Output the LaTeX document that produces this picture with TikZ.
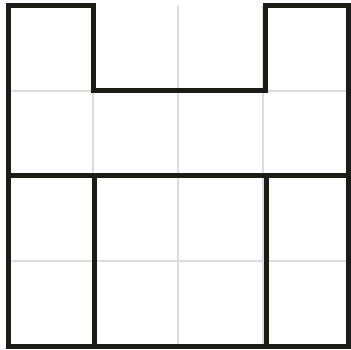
\documentclass[tikz,border=0pt]{standalone}
\definecolor{wallc}{HTML}{1C1C16}
\definecolor{gridc}{HTML}{DCDCDC}
\begin{document}
\begin{tikzpicture}[x=1pt,y=-1pt,
  gridline/.style={draw=gridc, line width=1.3pt},
  wall/.style={draw=wallc, line width=5pt, line cap=rect, line join=miter}]
\useasboundingbox (0,0) rectangle (351,350);
\fill[white] (0,0) rectangle (351,350);
% light grid
\foreach \x in {93,178,263} \draw[gridline] (\x,6) -- (\x,346);
\foreach \y in {91,176,261} \draw[gridline] (8,\y) -- (348,\y);
% thick outline
\draw[wall] (8,6) -- (93,6) -- (93,91) -- (265,91) -- (265,6) -- (348,6) -- (348,346) -- (8,346) -- cycle;
\draw[wall] (8,176) -- (348,176);
\draw[wall] (94,176) -- (94,346);
\draw[wall] (266,176) -- (266,346);
\end{tikzpicture}
\end{document}
